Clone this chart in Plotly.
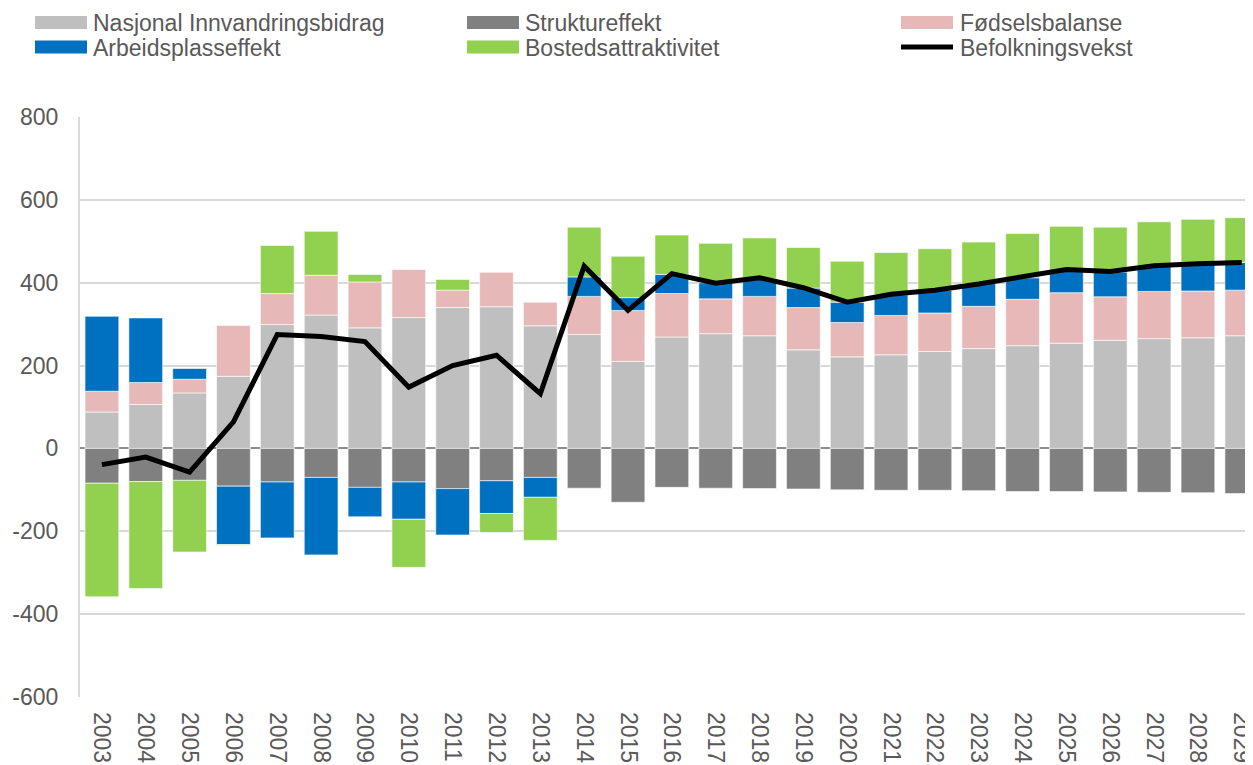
import plotly.graph_objects as go

years = [str(y) for y in range(2003, 2030)]

nasjonal = [88, 106, 134, 174, 299, 322, 291, 316, 340, 342, 296, 275, 210, 269, 277, 272, 238, 221, 226, 234, 241, 248, 254, 261, 265, 267, 272]
struktur = [-84, -80, -77, -91, -81, -70, -94, -81, -97, -78, -70, -96, -130, -94, -96, -97, -98, -100, -101, -101, -102, -104, -104, -105, -106, -107, -109]
fodsel = [50, 53, 33, 123, 75, 96, 111, 116, 42, 83, 57, 92, 123, 105, 84, 95, 102, 83, 95, 93, 102, 112, 122, 105, 114, 113, 110]
arbeid = [181, 156, 26, -141, -135, -187, -71, -90, -112, -79, -48, 47, 31, 46, 39, 43, 47, 49, 50, 55, 55, 52, 54, 60, 61, 65, 67]
bosted = [-274, -258, -173, -2, 116, 106, 18, -116, 26, -46, -104, 120, 100, 95, 95, 98, 98, 99, 102, 100, 100, 107, 106, 108, 107, 108, 108]
befolkning = [-39, -21, -57, 64, 275, 270, 258, 148, 200, 225, 132, 440, 333, 422, 399, 412, 388, 353, 372, 382, 397, 414, 432, 427, 441, 446, 449]

y_ticks = [-600, -400, -200, 0, 200, 400, 600, 800]
y_tick_labels = ["-600", "-400", "-200", "0", "200", "400", "600", "800"]

names = ["Nasjonal Innvandringsbidrag", "Struktureffekt", "Fødselsbalanse",
         "Arbeidsplasseffekt", "Bostedsattraktivitet", "Befolkningsvekst"]
colors = ["#BFBFBF", "#808080", "#E6B9B8", "#0070C0", "#92D050", "#000000"]

# page body has an 8px margin: work in figure coordinates (viewport minus 8)
OFF = 8
W, H = 1253 - OFF, 765 - OFF
L, R, T, B = 80 - OFF, 1253 - OFF, 117 - OFF, 697 - OFF
FONT = "Liberation Sans, Arial, sans-serif"
TXT = "#595959"

fig = go.Figure()
for vals, name, col in zip([nasjonal, struktur, fodsel, arbeid, bosted], names[:5], colors[:5]):
    fig.add_trace(go.Bar(x=years, y=vals, name=name, marker_color=col,
                         marker_line=dict(color="rgba(255,255,255,0.6)", width=1),
                         showlegend=False))
fig.add_trace(go.Scatter(x=years, y=befolkning, name=names[5], mode="lines",
                         line=dict(color="#000000", width=5), showlegend=False))


def px_x(p):
    return (p - OFF - L) / (R - L)


def px_y(p):
    return (B - (p - OFF)) / (B - T)


# manual legend (3 columns x 2 rows), positions in viewport pixels
legend_items = [
    (0, 35, 93, 22.5, 0),
    (1, 467, 525, 22.5, 0),
    (2, 901, 960, 22.5, 0),
    (3, 35, 93, 47, 0),
    (4, 467, 525, 47, 0),
    (5, 898, 960, 47, 1),
]
shapes = []
annotations = []
for idx, sx, tx, cy, is_line in legend_items:
    if is_line:
        shapes.append(dict(type="line", xref="paper", yref="paper",
                           x0=px_x(sx + 3), x1=px_x(956 - 3), y0=px_y(cy), y1=px_y(cy),
                           line=dict(color=colors[idx], width=5)))
    else:
        shapes.append(dict(type="rect", xref="paper", yref="paper",
                           x0=px_x(sx), x1=px_x(sx + 52), y0=px_y(cy - 6.5), y1=px_y(cy + 6.5),
                           fillcolor=colors[idx], line=dict(width=0)))
    annotations.append(dict(text=names[idx], xref="paper", yref="paper",
                            x=px_x(tx - 2), y=px_y(cy + 1), xanchor="left", yanchor="middle",
                            showarrow=False, font=dict(family=FONT, size=23, color=TXT)))

fig.update_layout(
    width=W, height=H,
    margin=dict(l=L, r=W - R, t=T, b=H - B, pad=0, autoexpand=False),
    barmode="relative",
    bargap=0.23,
    plot_bgcolor="white", paper_bgcolor="white",
    font=dict(family=FONT, size=23, color=TXT),
    shapes=shapes, annotations=annotations,
    showlegend=False,
)
fig.update_xaxes(range=[-0.5, 26.256], tickangle=90, showgrid=False, showline=False,
                 ticks="", tickfont=dict(size=23, color=TXT), ticklabelstandoff=14,
                 automargin=False)
fig.update_yaxes(range=[-600, 800], tickvals=y_ticks, ticktext=y_tick_labels,
                 showgrid=True, gridcolor="#D9D9D9",
                 gridwidth=1.5, zeroline=True, zerolinecolor="#8C8C8C", zerolinewidth=2,
                 showline=True, linecolor="#D9D9D9", linewidth=2, ticks="",
                 tickfont=dict(size=23, color=TXT), ticklabelstandoff=15,
                 automargin=False)

fig.write_html("out.html")
